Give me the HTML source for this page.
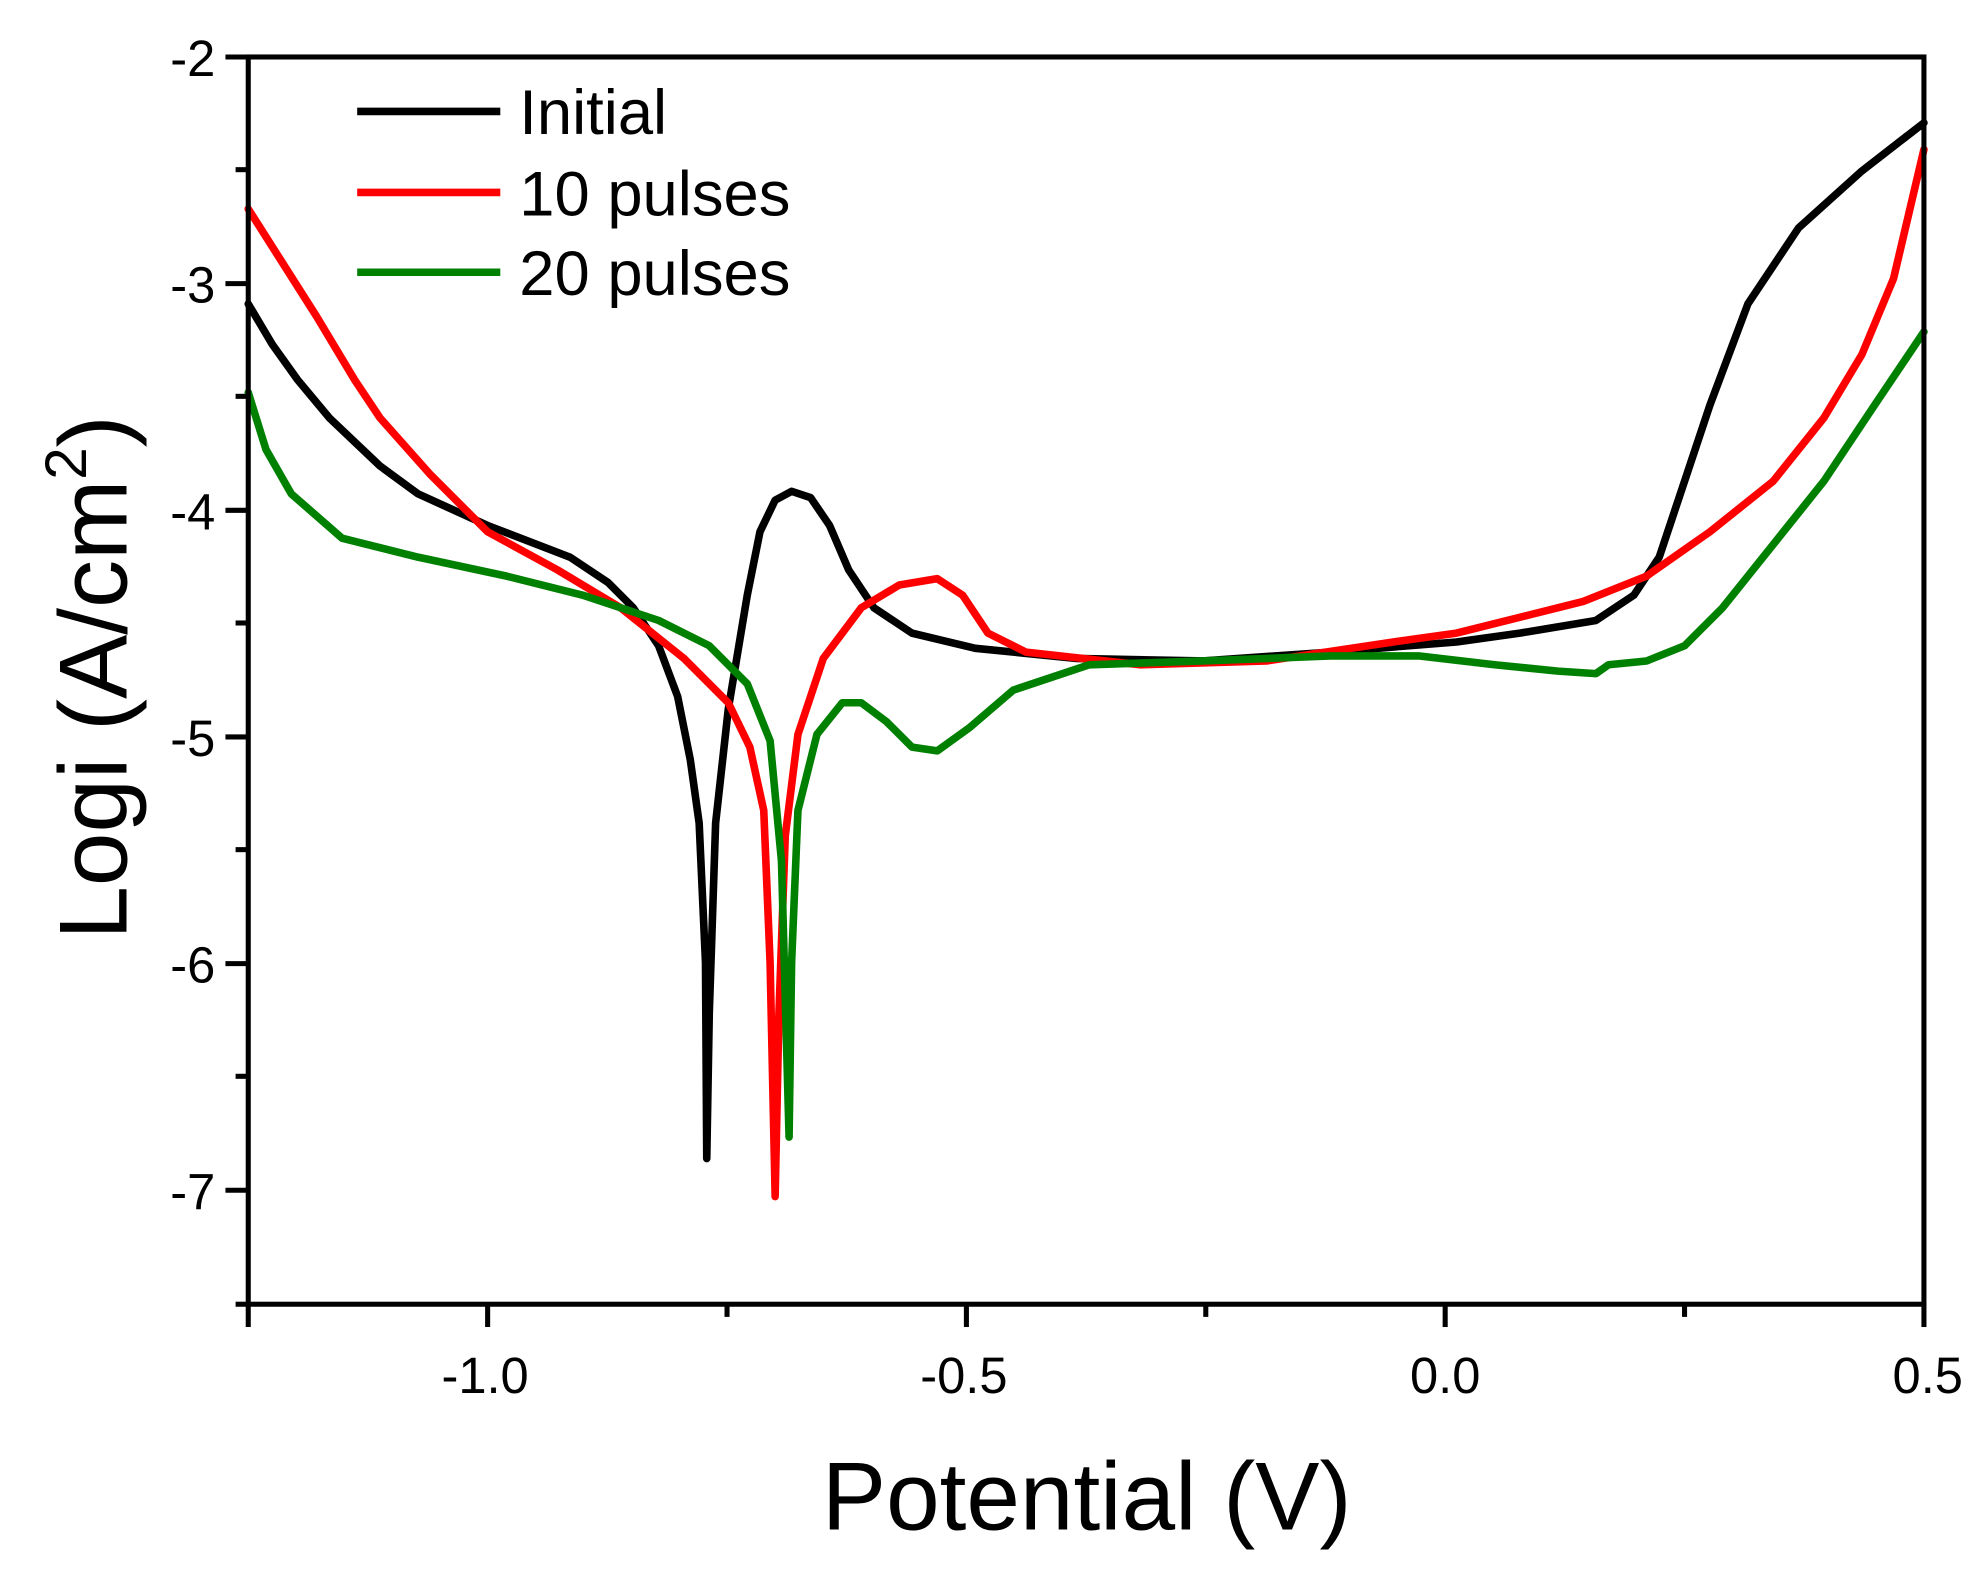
<!DOCTYPE html>
<html><head><meta charset="utf-8"><style>
html,body{margin:0;padding:0;background:#fff;}
svg{display:block;}
text{font-family:"Liberation Sans",sans-serif;fill:#000;}
</style></head><body>
<svg width="1986" height="1579" viewBox="0 0 1568 1247" preserveAspectRatio="none" xmlns="http://www.w3.org/2000/svg">
<rect x="0" y="0" width="1568" height="1247" fill="#fff"/>
<g fill="none" stroke-linejoin="round" stroke-linecap="round" stroke-width="6">
<polyline stroke="#000" points="196,240 215,272 235,300 260,330 300,368 330,390 385,415 450,440 480,460 500,480 520,510 535,550 545,600 552,650 557,760 558,915 560,800 565,650 575,560 590,470 600,420 612,395 625,388 640,393 655,415 670,450 690,480 720,500 770,512 850,520 950,522 1050,515 1150,507 1200,500 1260,490 1290,470 1310,440 1330,380 1350,320 1380,240 1420,180 1470,135 1519,97"/>
<polyline stroke="#f00" points="196,165 250,250 280,300 300,330 340,375 385,420 440,450 490,480 540,520 575,555 592,590 603,640 608,760 612,945 615,800 620,660 630,580 650,520 680,480 710,462 740,457 760,470 780,500 810,515 900,525 1000,522 1100,507 1150,500 1250,475 1300,455 1350,420 1400,380 1440,330 1470,280 1495,220 1519,118"/>
<polyline stroke="#008000" points="196,310 210,355 230,390 270,425 330,440 400,455 460,470 520,490 560,510 590,540 608,585 617,680 623,898 625,760 630,640 645,580 665,555 680,555 700,570 720,590 740,593 765,575 800,545 860,525 950,522 1050,518 1120,518 1180,525 1230,530 1260,532 1270,525 1300,522 1330,510 1360,480 1400,430 1440,380 1480,320 1519,262"/>
</g>
<g stroke="#000" stroke-width="4" fill="none">
<rect x="196" y="45" width="1323" height="985"/>
</g>
<g stroke="#000" stroke-width="4">
<line x1="178" y1="45" x2="196" y2="45"/><line x1="178" y1="224" x2="196" y2="224"/><line x1="178" y1="403" x2="196" y2="403"/><line x1="178" y1="582" x2="196" y2="582"/><line x1="178" y1="761" x2="196" y2="761"/><line x1="178" y1="940" x2="196" y2="940"/>
<line x1="186" y1="134" x2="196" y2="134"/><line x1="186" y1="313" x2="196" y2="313"/><line x1="186" y1="492" x2="196" y2="492"/><line x1="186" y1="671" x2="196" y2="671"/><line x1="186" y1="850" x2="196" y2="850"/><line x1="186" y1="1030" x2="196" y2="1030"/>
<line x1="385" y1="1030" x2="385" y2="1048"/><line x1="763" y1="1030" x2="763" y2="1048"/><line x1="1141" y1="1030" x2="1141" y2="1048"/><line x1="1519" y1="1030" x2="1519" y2="1048"/>
<line x1="196" y1="1030" x2="196" y2="1048"/><line x1="574" y1="1030" x2="574" y2="1040"/><line x1="952" y1="1030" x2="952" y2="1040"/><line x1="1330" y1="1030" x2="1330" y2="1040"/>
</g>
<g font-size="40" text-anchor="end">
<text x="170" y="60">-2</text><text x="170" y="239">-3</text><text x="170" y="418">-4</text><text x="170" y="597">-5</text><text x="170" y="776">-6</text><text x="170" y="955">-7</text>
</g>
<g font-size="40" text-anchor="middle">
<text x="383" y="1100">-1.0</text><text x="761" y="1100">-0.5</text><text x="1141" y="1100">0.0</text><text x="1522" y="1100">0.5</text>
</g>
<text x="858" y="1208" font-size="76" text-anchor="middle">Potential (V)</text>
<text transform="translate(100,535) rotate(-90)" font-size="76" text-anchor="middle">Logi (A/cm<tspan font-size="46" dy="-32">2</tspan><tspan dy="32">)</tspan></text>
<g stroke-width="6">
<line x1="282" y1="88" x2="395" y2="88" stroke="#000"/>
<line x1="282" y1="152" x2="395" y2="152" stroke="#f00"/>
<line x1="282" y1="215" x2="395" y2="215" stroke="#008000"/>
</g>
<g font-size="50">
<text x="410" y="106">Initial</text><text x="410" y="170">10 pulses</text><text x="410" y="233">20 pulses</text>
</g>
</svg>
</body></html>
